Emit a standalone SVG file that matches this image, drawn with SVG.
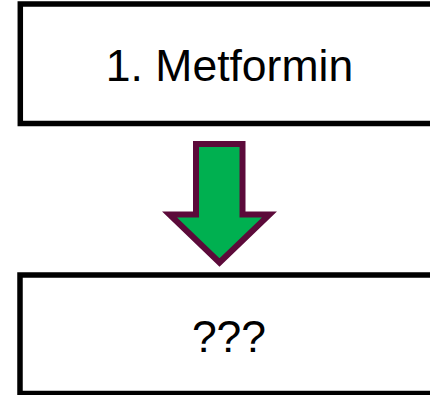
<svg xmlns="http://www.w3.org/2000/svg" width="430" height="395" viewBox="0 0 430 395">
  <style>
    .box { fill: #ffffff; stroke: #000000; stroke-width: 5.5; }
    .label { font-family: "Liberation Sans", Arial, sans-serif; font-size: 44.5px; fill: #000000; text-anchor: middle; }
    .arrow { fill: #00b050; stroke: #5c0a3a; stroke-width: 6; stroke-linejoin: miter; }
  </style>
  <rect x="0" y="0" width="430" height="395" fill="#ffffff"/>
  <g id="step1">
    <rect class="box" x="20.3" y="4" width="440" height="119.5"/>
    <text class="label" x="229.5" y="80.5">1. Metformin</text>
  </g>
  <g id="connectors">
    <polygon class="arrow" points="196,144 242.5,144 242.5,214.5 269.5,214.5 219.5,262.5 169.5,214.5 196,214.5"/>
  </g>
  <g id="step2">
    <rect class="box" x="20" y="275" width="440" height="118.5"/>
    <text class="label" x="229" y="351.5">???</text>
  </g>
</svg>
